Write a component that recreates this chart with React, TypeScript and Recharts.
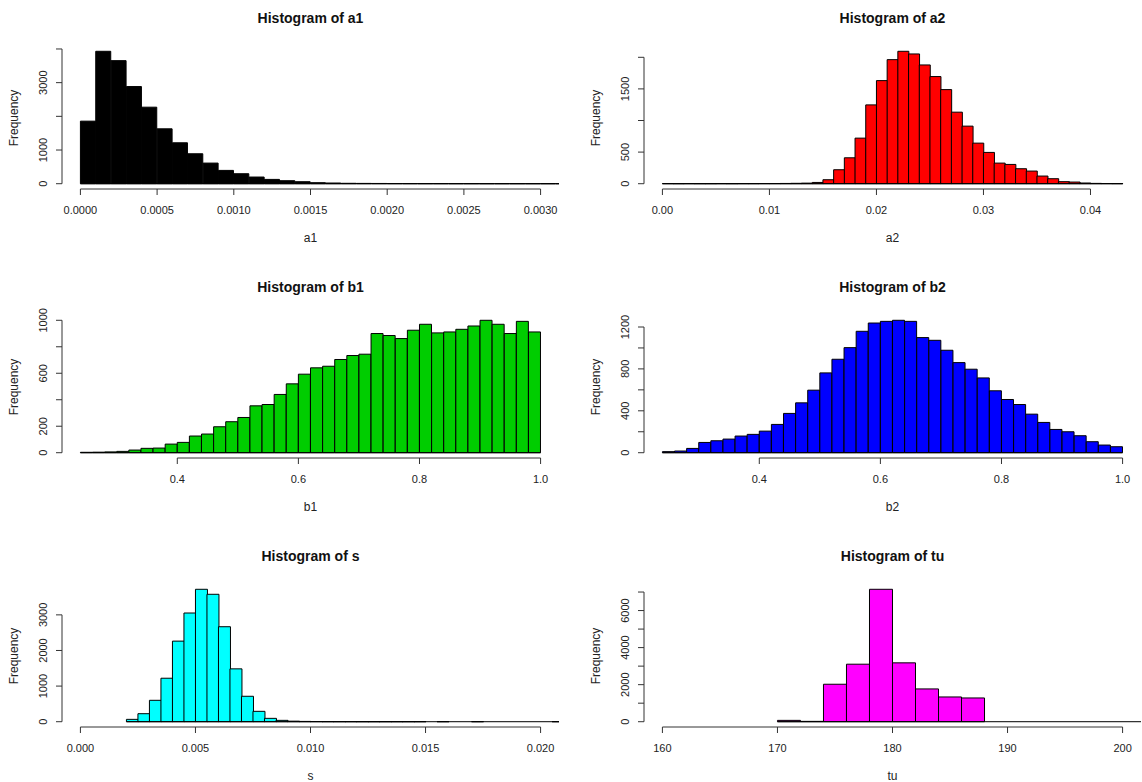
import { BarChart, Bar, XAxis, YAxis, ReferenceLine } from 'recharts';

const FONT = '"Liberation Sans", Arial, Helvetica, sans-serif';

// a1: bins of 0.0001 starting at 0
const a1Start = 0;
const a1Width = 0.0001;
const a1Counts = [
  1857, 3931, 3654, 2884, 2272, 1630, 1215, 889, 612, 395, 296, 198, 128, 89, 59, 30,
  20, 12, 9, 7, 5, 4, 3, 3, 2, 2, 1, 1, 1, 1, 1, 1,
];
const a1Xlim = [0, 0.003];
const a1XTicks = [0, 0.0005, 0.001, 0.0015, 0.002, 0.0025, 0.003];
const a1XLabels = ['0.0000', '0.0005', '0.0010', '0.0015', '0.0020', '0.0025', '0.0030'];
const a1YTicks = [0, 1000, 2000, 3000, 4000];
const a1YLabels = ['0', '1000', '', '3000', ''];

// a2: bins of 0.001 starting at 0
const a2Start = 0;
const a2Width = 0.001;
const a2Counts = [
  2, 1, 2, 1, 1, 2, 1, 2, 2, 3, 3, 4, 6, 9, 20, 63, 221, 410, 721, 1247, 1631, 1963,
  2095, 2053, 1879, 1695, 1489, 1132, 911, 642, 495, 326, 305, 237, 200, 121, 79, 32,
  26, 11, 5, 3, 2,
];
const a2Xlim = [0, 0.043];
const a2XTicks = [0, 0.01, 0.02, 0.03, 0.04];
const a2XLabels = ['0.00', '0.01', '0.02', '0.03', '0.04'];
const a2YTicks = [0, 500, 1000, 1500, 2000];
const a2YLabels = ['0', '500', '', '1500', ''];

// b1: bins of 0.02 starting at 0.24
const b1Start = 0.24;
const b1Width = 0.02;
const b1Counts = [
  3, 4, 6, 10, 20, 33, 35, 65, 78, 126, 141, 196, 234, 266, 354, 364, 440, 520, 593,
  641, 653, 704, 734, 744, 900, 885, 862, 925, 970, 905, 912, 932, 957, 1000, 970, 900,
  992, 912,
];
const b1Xlim = [0.24, 1.0];
const b1XTicks = [0.4, 0.6, 0.8, 1.0];
const b1XLabels = ['0.4', '0.6', '0.8', '1.0'];
const b1YTicks = [0, 200, 400, 600, 800, 1000];
const b1YLabels = ['0', '200', '', '600', '', '1000'];

// b2: bins of 0.02 starting at 0.24
const b2Start = 0.24;
const b2Width = 0.02;
const b2Counts = [
  10, 16, 41, 98, 114, 130, 159, 175, 206, 270, 375, 476, 597, 762, 892, 1003, 1159,
  1238, 1254, 1264, 1254, 1099, 1073, 978, 860, 797, 714, 591, 508, 460, 368, 289, 222,
  200, 162, 105, 73, 57,
];
const b2Xlim = [0.24, 1.0];
const b2XTicks = [0.4, 0.6, 0.8, 1.0];
const b2XLabels = ['0.4', '0.6', '0.8', '1.0'];
const b2YTicks = [0, 200, 400, 600, 800, 1000, 1200];
const b2YLabels = ['0', '', '400', '', '800', '', '1200'];

// s: bins of 0.0005 starting at 0.002
const sStart = 0.002;
const sWidth = 0.0005;
const sCounts = [
  66, 225, 601, 1221, 2263, 3052, 3718, 3578, 2667, 1484, 714, 291, 94, 38, 15, 8, 5, 3,
  2, 2, 1, 1, 1, 1, 1, 1, 0, 1, 0, 0, 1, 0, 0, 0, 0, 0, 0, 1,
];
const sXlim = [0, 0.02];
const sXTicks = [0, 0.005, 0.01, 0.015, 0.02];
const sXLabels = ['0.000', '0.005', '0.010', '0.015', '0.020'];
const sYTicks = [0, 1000, 2000, 3000];
const sYLabels = ['0', '1000', '2000', '3000'];

// tu: bins of 2 starting at 170
const tuStart = 170;
const tuWidth = 2;
const tuCounts = [72, 18, 2022, 3105, 7148, 3177, 1769, 1336, 1282, 0, 0, 0, 0, 0, 0, 0, 0];
const tuXlim = [160, 200];
const tuXTicks = [160, 170, 180, 190, 200];
const tuXLabels = ['160', '170', '180', '190', '200'];
const tuYTicks = [0, 1000, 2000, 3000, 4000, 5000, 6000, 7000];
const tuYLabels = ['0', '', '2000', '', '4000', '', '6000', ''];

const CHART_W = 560;
const CHART_H = 269;
const PLOT_L = 62;
const PLOT_T = 46;
const PLOT_W = 497;
const PLOT_H = 143;

interface HistProps {
  name: string;
  color: string;
  start: number;
  width: number;
  counts: number[];
  xlim: number[];
  xTicks: number[];
  xLabels: string[];
  yTicks: number[];
  yLabels: string[];
  left: number;
  top: number;
}

function Hist({ name, color, start, width, counts, xlim, xTicks, xLabels, yTicks, yLabels, left, top }: HistProps) {
  const rows = counts.map((c, i) => ({ mid: start + width * (i + 0.5), count: c }));
  const span = xlim[1] - xlim[0];
  const xDomain = [xlim[0] - 0.04 * span, xlim[1] + 0.04 * span];
  const ymax = Math.max(...counts);
  const yDomain = [-0.04 * ymax, 1.04 * ymax];
  const binEnd = Math.min(start + width * counts.length, xDomain[1]);

  const xTick = (p: any) => {
    let i = xTicks.indexOf(p.payload.value);
    if (i < 0) i = p.index;
    return (
      <text x={p.x} y={p.y} dy={17} textAnchor="middle" fontSize={11} fill="#222" fontFamily={FONT}>
        {xLabels[i]}
      </text>
    );
  };
  const yTick = (p: any) => {
    let i = yTicks.indexOf(p.payload.value);
    if (i < 0) i = p.index;
    const tx = p.x - 7;
    return (
      <text
        x={tx}
        y={p.y}
        textAnchor="middle"
        fontSize={11}
        fill="#222"
        fontFamily={FONT}
        transform={`rotate(-90 ${tx} ${p.y})`}
      >
        {yLabels[i]}
      </text>
    );
  };

  return (
    <div style={{ position: 'absolute', left, top, width: CHART_W, height: CHART_H }}>
      <BarChart
        width={CHART_W}
        height={CHART_H}
        data={rows}
        margin={{ top: PLOT_T, right: CHART_W - PLOT_L - PLOT_W, bottom: 20, left: 0 }}
        barCategoryGap={0}
        barGap={0}
      >
        <XAxis
          type="number"
          dataKey="mid"
          domain={xDomain}
          allowDataOverflow
          ticks={xTicks}
          interval={0}
          axisLine={false}
          tickSize={6}
          stroke="#333"
          height={CHART_H - PLOT_T - PLOT_H - 20}
          tick={xTick}
        />
        <YAxis
          type="number"
          domain={yDomain}
          allowDataOverflow
          ticks={yTicks}
          interval={0}
          axisLine={false}
          tickSize={6}
          stroke="#333"
          width={PLOT_L}
          tick={yTick}
        />
        <Bar dataKey="count" fill={color} stroke="#000" strokeWidth={1} isAnimationActive={false} />
        <ReferenceLine
          segment={[{ x: start, y: 0 }, { x: binEnd, y: 0 }]}
          stroke="#000"
          strokeWidth={1}
          ifOverflow="visible"
        />
        <ReferenceLine
          segment={[{ x: xTicks[0], y: yDomain[0] }, { x: xTicks[xTicks.length - 1], y: yDomain[0] }]}
          stroke="#333"
          strokeWidth={1}
          ifOverflow="visible"
        />
        <ReferenceLine
          segment={[{ x: xDomain[0], y: yTicks[0] }, { x: xDomain[0], y: yTicks[yTicks.length - 1] }]}
          stroke="#333"
          strokeWidth={1}
          ifOverflow="visible"
        />
      </BarChart>
      <div
        style={{
          position: 'absolute',
          left: PLOT_L,
          width: PLOT_W,
          top: PLOT_T - 28 - 9,
          height: 18,
          lineHeight: '18px',
          textAlign: 'center',
          fontSize: 14,
          fontWeight: 'bold',
          color: '#111',
        }}
      >
        Histogram of {name}
      </div>
      <div
        style={{
          position: 'absolute',
          left: PLOT_L,
          width: PLOT_W,
          top: PLOT_T + PLOT_H + 49 - 8,
          height: 16,
          lineHeight: '16px',
          textAlign: 'center',
          fontSize: 12,
          color: '#222',
        }}
      >
        {name}
      </div>
      <div
        style={{
          position: 'absolute',
          left: PLOT_L - 48 - 50,
          width: 100,
          top: PLOT_T + PLOT_H / 2 - 8,
          height: 16,
          lineHeight: '16px',
          textAlign: 'center',
          fontSize: 12,
          color: '#222',
          transform: 'rotate(-90deg)',
        }}
      >
        Frequency
      </div>
    </div>
  );
}

export default function App() {
  return (
    <div
      style={{
        position: 'fixed',
        left: 0,
        top: 0,
        width: 1142,
        height: 782,
        overflow: 'hidden',
        background: '#fff',
        fontFamily: FONT,
      }}
    >
      <Hist name="a1" color="#000000" start={a1Start} width={a1Width} counts={a1Counts} xlim={a1Xlim}
        xTicks={a1XTicks} xLabels={a1XLabels} yTicks={a1YTicks} yLabels={a1YLabels} left={0} top={0} />
      <Hist name="a2" color="#FF0000" start={a2Start} width={a2Width} counts={a2Counts} xlim={a2Xlim}
        xTicks={a2XTicks} xLabels={a2XLabels} yTicks={a2YTicks} yLabels={a2YLabels} left={582} top={0} />
      <Hist name="b1" color="#00CD00" start={b1Start} width={b1Width} counts={b1Counts} xlim={b1Xlim}
        xTicks={b1XTicks} xLabels={b1XLabels} yTicks={b1YTicks} yLabels={b1YLabels} left={0} top={269} />
      <Hist name="b2" color="#0000FF" start={b2Start} width={b2Width} counts={b2Counts} xlim={b2Xlim}
        xTicks={b2XTicks} xLabels={b2XLabels} yTicks={b2YTicks} yLabels={b2YLabels} left={582} top={269} />
      <Hist name="s" color="#00FFFF" start={sStart} width={sWidth} counts={sCounts} xlim={sXlim}
        xTicks={sXTicks} xLabels={sXLabels} yTicks={sYTicks} yLabels={sYLabels} left={0} top={538} />
      <Hist name="tu" color="#FF00FF" start={tuStart} width={tuWidth} counts={tuCounts} xlim={tuXlim}
        xTicks={tuXTicks} xLabels={tuXLabels} yTicks={tuYTicks} yLabels={tuYLabels} left={582} top={538} />
    </div>
  );
}
